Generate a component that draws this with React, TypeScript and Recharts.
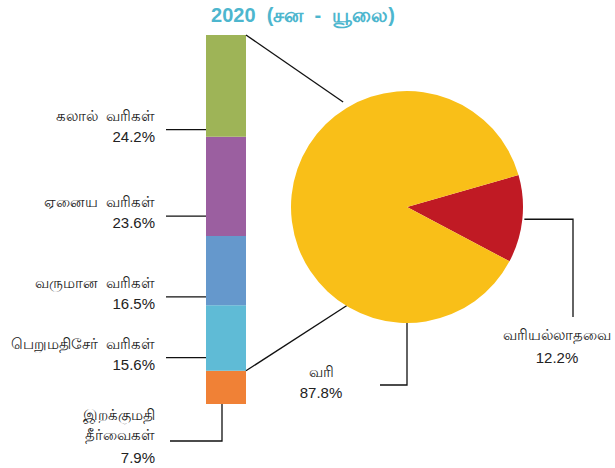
import { BarChart, Bar, XAxis, YAxis, LabelList, PieChart, Pie, Cell } from 'recharts'

const TITLE = '2020  (சன  -  யூலை)'

// stacked bar, bottom to top
const BAR_NAMES = ['இறக்குமதி\nதீர்வைகள்', 'பெறுமதிசேர்  வரிகள்', 'வருமான  வரிகள்', 'ஏனைய  வரிகள்', 'கலால்  வரிகள்']
const BAR_SHARES = [7.9, 15.6, 16.5, 23.6, 24.2]
const BAR_COLORS = ['#F08136', '#5FBBD6', '#6598CC', '#9B5FA0', '#9EB457']

const PIE_NAMES = ['வரியல்லாதவை', 'வரி']
const PIE_VALUES = [12.2, 87.8]
const PIE_COLORS = ['#C01A24', '#F9BF18']

const W = 615
const H = 468
const FONT = '"Liberation Sans", Arial, sans-serif'
const INK = '#222'
const RAD = Math.PI / 180

const PIE_CX = 402
const PIE_CY = 202
const PIE_R = 116
// where the two connector lines meet the pie
const CONNECT_TOP = 120.5
const CONNECT_BOTTOM = 242.3
// where each side leader hits its segment (fraction of segment height)
const LEADER_FRAC = [0, 0.8, 0.88, 0.8, 0.93]

const keys = BAR_SHARES.map((_, i) => `s${i}`)
const barData = [Object.fromEntries([['name', 'tax'], ...keys.map((k, i) => [k, BAR_SHARES[i]])])]
const barTotal = BAR_SHARES.reduce((s, v) => s + v, 0)
const pieData = PIE_NAMES.map((name, i) => ({ name, value: PIE_VALUES[i] }))

const pieAt = (deg: number) => [PIE_CX + PIE_R * Math.cos(deg * RAD), PIE_CY - PIE_R * Math.sin(deg * RAD)]

const num = { fontFamily: FONT, fontSize: 15, fill: INK } as const
const tam = { fontFamily: FONT, fontSize: 15, fill: INK, whiteSpace: 'pre' } as const

function barLabel(i: number) {
  return (p: any) => {
    const x = Number(p.x), y = Number(p.y), w = Number(p.width), h = Number(p.height)
    const lines = BAR_NAMES[i].split('\n')
    const pct = `${BAR_SHARES[i]}%`
    let side
    if (i === 0) {
      const lx = x + w * 0.4
      const ly = y + h + 37
      side = (
        <g>
          <path d={`M${lx},${y + h}V${ly}H170`} fill="none" stroke="#111" strokeWidth={1.3} />
          <text x={155} y={ly - 21} textAnchor="end" style={tam}>{lines[0]}</text>
          <text x={155} y={ly - 1} textAnchor="end" style={tam}>{lines[1]}</text>
          <text x={155} y={ly + 22} textAnchor="end" style={num}>{pct}</text>
        </g>
      )
    } else {
      const ly = y + h * LEADER_FRAC[i]
      side = (
        <g>
          <line x1={166} y1={ly} x2={x} y2={ly} stroke="#111" strokeWidth={1.3} />
          <text x={155} y={ly - 9} textAnchor="end" style={tam}>{lines[0]}</text>
          <text x={155} y={ly + 12} textAnchor="end" style={num}>{pct}</text>
        </g>
      )
    }
    let conn = null
    if (i === BAR_SHARES.length - 1) {
      const [px, py] = pieAt(CONNECT_TOP)
      conn = <line x1={x + w} y1={y} x2={px} y2={py} stroke="#111" strokeWidth={1.3} />
    } else if (i === 0) {
      const [px, py] = pieAt(CONNECT_BOTTOM)
      conn = <line x1={x + w} y1={y} x2={px} y2={py} stroke="#111" strokeWidth={1.3} />
    }
    return (
      <g>
        {side}
        {conn}
      </g>
    )
  }
}

const renderPieLabel = (p: any) => {
  const { cx, cy, outerRadius, midAngle, index } = p
  if (index === 0) {
    const sx = cx + (outerRadius + 2) * Math.cos(midAngle * RAD)
    const sy = cy - (outerRadius + 2) * Math.sin(midAngle * RAD)
    return (
      <g>
        <path d={`M${sx},${sy}H573V317`} fill="none" stroke="#111" strokeWidth={1.3} />
        <text x={557} y={340} textAnchor="middle" style={tam}>{PIE_NAMES[0]}</text>
        <text x={557} y={363} textAnchor="middle" style={num}>{`${PIE_VALUES[0]}%`}</text>
      </g>
    )
  }
  return (
    <g>
      <path d={`M${cx},${cy + outerRadius}V385H380`} fill="none" stroke="#111" strokeWidth={1.3} />
      <text x={321} y={377} textAnchor="middle" style={tam}>{PIE_NAMES[1]}</text>
      <text x={321} y={398} textAnchor="middle" style={num}>{`${PIE_VALUES[1]}%`}</text>
    </g>
  )
}

export default function App() {
  return (
    <div style={{ position: 'absolute', left: 0, top: 0, width: W, height: H, background: '#fff' }}>
      <div
        style={{
          position: 'absolute', left: 0, top: 3, width: 606, textAlign: 'center', whiteSpace: 'pre',
          fontFamily: FONT, fontSize: 20, fontWeight: 'bold', color: '#4DB6CE', lineHeight: '24px',
        }}
      >
        {TITLE}
      </div>
      <div style={{ position: 'absolute', left: 0, top: 0 }}>
        <BarChart width={W} height={H} data={barData} margin={{ top: 35, right: 349, bottom: 64, left: 186 }}>
          <XAxis dataKey="name" hide />
          <YAxis hide domain={[0, barTotal]} allowDataOverflow />
          {keys.map((k, i) => (
            <Bar key={k} dataKey={k} stackId="a" fill={BAR_COLORS[i]} barSize={40} isAnimationActive={false}>
              <LabelList dataKey={k} content={barLabel(i)} />
            </Bar>
          ))}
        </BarChart>
      </div>
      <div style={{ position: 'absolute', left: 0, top: 0 }}>
        <PieChart width={W} height={H}>
          <Pie
            data={pieData}
            dataKey="value"
            nameKey="name"
            cx={PIE_CX}
            cy={PIE_CY}
            outerRadius={PIE_R}
            startAngle={16}
            endAngle={-344}
            stroke="none"
            labelLine={false}
            label={renderPieLabel}
            isAnimationActive={false}
          >
            {pieData.map((d, i) => <Cell key={d.name} fill={PIE_COLORS[i]} />)}
          </Pie>
        </PieChart>
      </div>
    </div>
  )
}
